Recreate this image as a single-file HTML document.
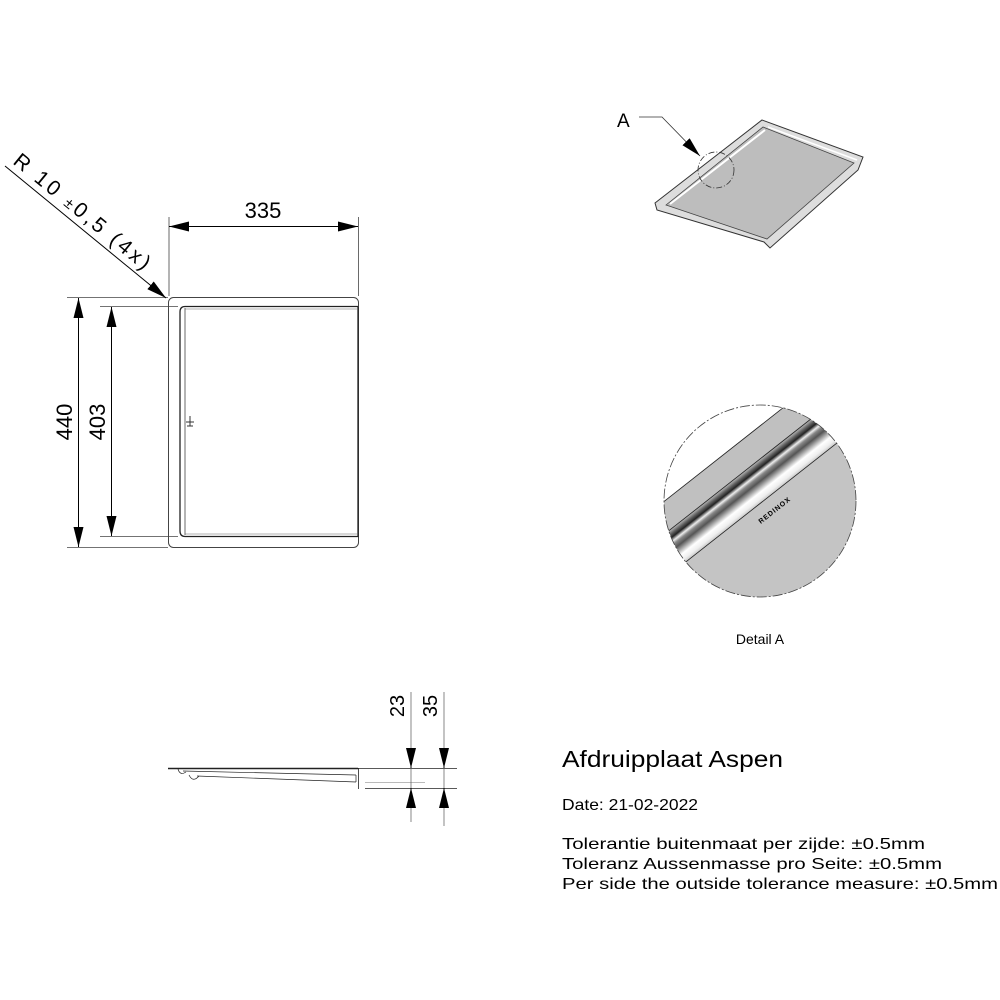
<!DOCTYPE html>
<html><head><meta charset="utf-8"><style>html,body{margin:0;padding:0;background:#fff}svg{display:block}</style></head>
<body>
<svg width="1000" height="1000" viewBox="0 0 1000 1000" xmlns="http://www.w3.org/2000/svg" font-family="Liberation Sans, Arial, sans-serif">
<defs>
<marker id="ab" viewBox="0 0 20 10" refX="20" refY="5" markerWidth="20" markerHeight="10" markerUnits="userSpaceOnUse" orient="auto-start-reverse"><path d="M0,0 L20,5 L0,10z" fill="#000"/></marker>
<clipPath id="cc"><circle cx="760" cy="501" r="96"/></clipPath>
<linearGradient id="tube" x1="0" y1="0" x2="0" y2="1">
<stop offset="0" stop-color="#bbb"/><stop offset="0.1" stop-color="#666"/><stop offset="0.2" stop-color="#222"/><stop offset="0.3" stop-color="#eee"/><stop offset="0.38" stop-color="#888"/><stop offset="0.5" stop-color="#555"/><stop offset="0.75" stop-color="#fff"/><stop offset="0.9" stop-color="#eee"/><stop offset="1" stop-color="#c8c8c8"/>
</linearGradient>
</defs>

<!-- Plan view -->
<rect x="168.5" y="297.5" width="190" height="250" rx="5" fill="none" stroke="#444" stroke-width="1"/>
<path d="M358,306.5 H185 Q180,306.5 180,312 V531 Q180,536.5 185,536.5 H358 V306.5" fill="none" stroke="#222" stroke-width="1.3"/>
<line x1="185" y1="308" x2="185" y2="535" stroke="#444" stroke-width="0.8"/>
<line x1="185" y1="309" x2="358" y2="309" stroke="#666" stroke-width="0.6"/>
<line x1="185" y1="534" x2="358" y2="534" stroke="#666" stroke-width="0.6"/>
<path d="M186,422 h8 M190,416 v10 M187,426 h6" stroke="#333" stroke-width="1"/>

<!-- dims plan -->
<g stroke="#444" stroke-width="0.8" fill="none">
<line x1="67" y1="297.5" x2="168" y2="297.5"/>
<line x1="67" y1="547.5" x2="168" y2="547.5"/>
<line x1="100" y1="306.5" x2="178" y2="306.5"/>
<line x1="100" y1="536.5" x2="178" y2="536.5"/>
<line x1="169" y1="217" x2="169" y2="296"/>
<line x1="358.5" y1="217" x2="358.5" y2="296"/>
</g>
<g stroke="#000" stroke-width="1">
<line x1="78.5" y1="298" x2="78.5" y2="547" marker-start="url(#ab)" marker-end="url(#ab)"/>
<line x1="111.5" y1="307" x2="111.5" y2="536" marker-start="url(#ab)" marker-end="url(#ab)"/>
<line x1="169" y1="226.5" x2="358" y2="226.5" marker-start="url(#ab)" marker-end="url(#ab)"/>
<line x1="5" y1="166" x2="166" y2="298" marker-end="url(#ab)"/>
</g>
<text x="263" y="218" font-size="22" text-anchor="middle">335</text>
<text transform="translate(72,422) rotate(-90)" font-size="22" text-anchor="middle">440</text>
<text transform="translate(105,422) rotate(-90)" font-size="22" text-anchor="middle">403</text>
<text transform="translate(12,163) rotate(39.3)" font-size="21" textLength="170" lengthAdjust="spacing">R  10  <tspan font-size="15">±</tspan>0,5  (4x)</text>

<!-- iso view -->
<path d="M655,203 L762,120 L863,157 L858,170 L770,248 L764,242 L657,210 Z" fill="#ddd" stroke="#333" stroke-width="1"/>
<path d="M666,205 L763,127 L854,163 L767,239 Z" fill="#bdbdbd" stroke="#444" stroke-width="0.8"/>
<path d="M670,204 L765,130" stroke="#fff" stroke-width="2"/>
<path d="M768,127 L857,160" stroke="#fff" stroke-width="1.5"/>
<circle cx="716" cy="170" r="18" fill="none" stroke="#333" stroke-width="0.8" stroke-dasharray="6,2,1,2"/>
<text x="617" y="127" font-size="19">A</text>
<polyline points="639,117 662,117 700,156" fill="none" stroke="#333" stroke-width="0.8" marker-end="url(#ab)"/>

<!-- Detail A -->
<g clip-path="url(#cc)">
<rect x="640" y="380" width="240" height="240" fill="#fff"/>
<g transform="rotate(-38.2 760 501)">
<rect x="600" y="442" width="320" height="26" fill="#c0c0c0"/>
<rect x="600" y="468" width="320" height="35" fill="url(#tube)"/>
<rect x="600" y="503" width="320" height="120" fill="#c4c4c4"/>
<line x1="600" y1="442" x2="920" y2="442" stroke="#222" stroke-width="0.8"/>
<line x1="600" y1="468" x2="920" y2="468" stroke="#222" stroke-width="0.8"/>
<line x1="600" y1="503" x2="920" y2="503" stroke="#222" stroke-width="0.8"/>
</g>
</g>
<circle cx="760" cy="501" r="96" fill="none" stroke="#444" stroke-width="0.8" stroke-dasharray="10,2,2,2"/>
<text transform="translate(776,512) rotate(-38.2)" font-size="7" font-weight="bold" text-anchor="middle" letter-spacing="1">REDINOX</text>
<text x="760" y="644" font-size="14" text-anchor="middle">Detail A</text>

<!-- side view -->
<g stroke="#222" fill="none">
<line x1="168" y1="768.5" x2="358" y2="768.5" stroke-width="1.5"/>
<line x1="358" y1="768.5" x2="457" y2="768.5" stroke-width="0.8"/>
<line x1="365" y1="782.5" x2="425" y2="782.5" stroke-width="0.6" stroke="#777"/>
<line x1="365" y1="788.5" x2="457" y2="788.5" stroke-width="0.8"/>
<line x1="358.5" y1="768" x2="358.5" y2="789" stroke-width="0.8"/>
<line x1="183" y1="771" x2="356" y2="775" stroke-width="0.7"/>
<line x1="197" y1="776" x2="356" y2="782" stroke-width="0.7"/>
<line x1="356" y1="775" x2="356" y2="782" stroke-width="0.7"/>
<path d="M178,769 Q180,776 186,772" stroke-width="0.7"/>
<path d="M189,775 Q193,783 199,776" stroke-width="0.7"/>
<line x1="411" y1="692" x2="411" y2="822" stroke-width="0.7" stroke="#555"/>
<line x1="444" y1="692" x2="444" y2="826" stroke-width="0.7" stroke="#555"/>
</g>
<g stroke="#000">
<line x1="411" y1="748" x2="411" y2="768" marker-end="url(#ab)"/>
<line x1="411" y1="808" x2="411" y2="788" marker-end="url(#ab)"/>
<line x1="444" y1="748" x2="444" y2="768" marker-end="url(#ab)"/>
<line x1="444" y1="808" x2="444" y2="788" marker-end="url(#ab)"/>
</g>
<text transform="translate(404,706) rotate(-90)" font-size="20" text-anchor="middle">23</text>
<text transform="translate(437,706) rotate(-90)" font-size="20" text-anchor="middle">35</text>

<!-- text block -->
<text x="562" y="767" font-size="23" textLength="221" lengthAdjust="spacingAndGlyphs">Afdruipplaat Aspen</text>
<text x="562" y="810" font-size="16" textLength="136" lengthAdjust="spacingAndGlyphs">Date: 21-02-2022</text>
<text x="562" y="849" font-size="16" textLength="363" lengthAdjust="spacingAndGlyphs">Tolerantie buitenmaat per zijde: ±0.5mm</text>
<text x="562" y="869" font-size="16" textLength="380" lengthAdjust="spacingAndGlyphs">Toleranz Aussenmasse pro Seite: ±0.5mm</text>
<text x="562" y="889" font-size="16" textLength="436" lengthAdjust="spacingAndGlyphs">Per side the outside tolerance measure: ±0.5mm</text>
</svg>
</body></html>
